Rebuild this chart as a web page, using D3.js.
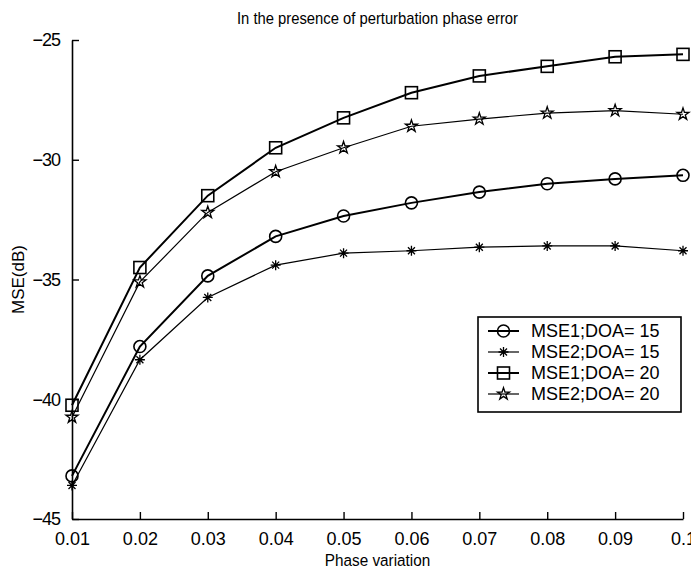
<!DOCTYPE html>
<html>
<head>
<meta charset="utf-8">
<script src="https://cdn.jsdelivr.net/npm/d3@7"></script>
<style>
  body { margin: 0; background: #fff; }
  text { font-family: "Liberation Sans", Arial, sans-serif; fill: #000; }
</style>
</head>
<body>
<div id="chart"></div>
<script>
// data
var phase = [0.01, 0.02, 0.03, 0.04, 0.05, 0.06, 0.07, 0.08, 0.09, 0.1];
var mse1Doa15 = [-43.2, -37.8, -34.85, -33.2, -32.35, -31.8, -31.35, -31.0, -30.8, -30.65];
var mse2Doa15 = [-43.6, -38.35, -35.75, -34.4, -33.9, -33.8, -33.65, -33.6, -33.6, -33.8];
var mse1Doa20 = [-40.25, -34.5, -31.5, -29.5, -28.25, -27.2, -26.5, -26.1, -25.7, -25.6];
var mse2Doa20 = [-40.75, -35.1, -32.2, -30.5, -29.5, -28.6, -28.3, -28.05, -27.95, -28.1];
var xTicks = [0.01, 0.02, 0.03, 0.04, 0.05, 0.06, 0.07, 0.08, 0.09, 0.1];
var yTicks = [-45, -40, -35, -30, -25];
var seriesNames = ["MSE1;DOA= 15", "MSE2;DOA= 15", "MSE1;DOA= 20", "MSE2;DOA= 20"];

var svgWidth = 691;
var svgHeight = 572;
var margin = { top: 40, right: 8, bottom: 53, left: 72 };
var width = svgWidth - margin.left - margin.right;
var height = svgHeight - margin.top - margin.bottom;

var svg = d3.select("#chart")
  .append("svg")
  .attr("width", svgWidth)
  .attr("height", svgHeight);

var chartGroup = svg.append("g")
  .attr("transform", `translate(${margin.left}, ${margin.top})`);

var xScale = d3.scaleLinear().domain([0.01, 0.1]).range([0, width]);
var yScale = d3.scaleLinear().domain([-45, -25]).range([height, 0]);

// axes, ticks pointing inward like matlab
var bottomAxis = d3.axisBottom(xScale)
  .tickValues(xTicks)
  .tickSizeInner(-7)
  .tickSizeOuter(0)
  .tickPadding(16)
  .tickFormat(d => d === 0.1 ? "0.1" : d3.format(".2f")(d));
var leftAxis = d3.axisLeft(yScale)
  .tickValues(yTicks)
  .tickSizeInner(-7)
  .tickSizeOuter(0)
  .tickPadding(12)
  .tickFormat(d3.format("d"));

var xAxis = chartGroup.append("g")
  .attr("transform", `translate(0, ${height})`)
  .call(bottomAxis);
var yAxis = chartGroup.append("g")
  .call(leftAxis);

[xAxis, yAxis].forEach(function(ax) {
  ax.select(".domain").attr("stroke", "#000").attr("stroke-width", 1.6);
  ax.selectAll(".tick line").attr("stroke", "#000").attr("stroke-width", 1.4);
  ax.selectAll(".tick text").style("font-size", "18px");
});
xAxis.selectAll(".tick text").attr("dy", "0.55em");
yAxis.selectAll(".tick text").attr("letter-spacing", "-1px");

// one series at a time
var series = [
  { name: seriesNames[0], values: mse1Doa15, marker: "circle", lw: 2 },
  { name: seriesNames[1], values: mse2Doa15, marker: "asterisk", lw: 1.2 },
  { name: seriesNames[2], values: mse1Doa20, marker: "square", lw: 2 },
  { name: seriesNames[3], values: mse2Doa20, marker: "star", lw: 1.2 }
];

var line = d3.line()
  .x(d => xScale(d[0]))
  .y(d => yScale(d[1]));

function drawMarker(g, type, cx, cy) {
  if (type === "circle") {
    g.append("circle").attr("cx", cx).attr("cy", cy).attr("r", 6)
      .attr("fill", "none").attr("stroke", "#000").attr("stroke-width", 1.6);
  } else if (type === "square") {
    g.append("rect").attr("x", cx - 6).attr("y", cy - 6).attr("width", 12).attr("height", 12)
      .attr("fill", "none").attr("stroke", "#000").attr("stroke-width", 1.6);
  } else if (type === "star") {
    g.append("path").attr("d", d3.symbol(d3.symbolStar, 45)())
      .attr("transform", `translate(${cx},${cy})`)
      .attr("fill", "none").attr("stroke", "#000").attr("stroke-width", 1.3);
  } else {
    var s = 5;
    g.append("path")
      .attr("d", `M${cx},${cy - s}V${cy + s}M${cx - s},${cy}H${cx + s}M${cx - 3.5},${cy - 3.5}L${cx + 3.5},${cy + 3.5}M${cx - 3.5},${cy + 3.5}L${cx + 3.5},${cy - 3.5}`)
      .attr("stroke", "#000").attr("stroke-width", 1.3);
  }
}

series.forEach(function(s) {
  var pts = phase.map((p, i) => [p, s.values[i]]);
  chartGroup.append("path")
    .datum(pts)
    .attr("d", line)
    .attr("fill", "none")
    .attr("stroke", "#000")
    .attr("stroke-width", s.lw);
  var mg = chartGroup.append("g");
  pts.forEach(function(p) {
    drawMarker(mg, s.marker, xScale(p[0]), yScale(p[1]));
  });
});

// title and labels (condensed look of the original)
svg.append("text")
  .attr("transform", `translate(${margin.left + width / 2}, 24) scale(0.87, 1)`)
  .attr("text-anchor", "middle")
  .style("font-size", "17px")
  .text("In the presence of perturbation phase error");

svg.append("text")
  .attr("transform", `translate(${margin.left + width / 2}, 566) scale(0.9, 1)`)
  .attr("text-anchor", "middle")
  .style("font-size", "17px")
  .text("Phase variation");

svg.append("text")
  .attr("transform", `translate(24, ${margin.top + height / 2}) rotate(-90)`)
  .attr("text-anchor", "middle")
  .style("font-size", "17px")
  .text("MSE(dB)");

// legend
var legend = svg.append("g").attr("transform", "translate(478, 317)");
legend.append("rect")
  .attr("width", 203)
  .attr("height", 95)
  .attr("fill", "#fff")
  .attr("stroke", "#000")
  .attr("stroke-width", 1.6);

series.forEach(function(s, i) {
  var ly = 14 + i * 21;
  legend.append("line")
    .attr("x1", 10).attr("x2", 41)
    .attr("y1", ly).attr("y2", ly)
    .attr("stroke", "#000").attr("stroke-width", s.lw);
  drawMarker(legend, s.marker, 25.5, ly);
  legend.append("text")
    .attr("x", 53)
    .attr("y", ly)
    .attr("dy", "0.36em")
    .style("font-size", "18px")
    .text(s.name);
});
</script>
</body>
</html>
